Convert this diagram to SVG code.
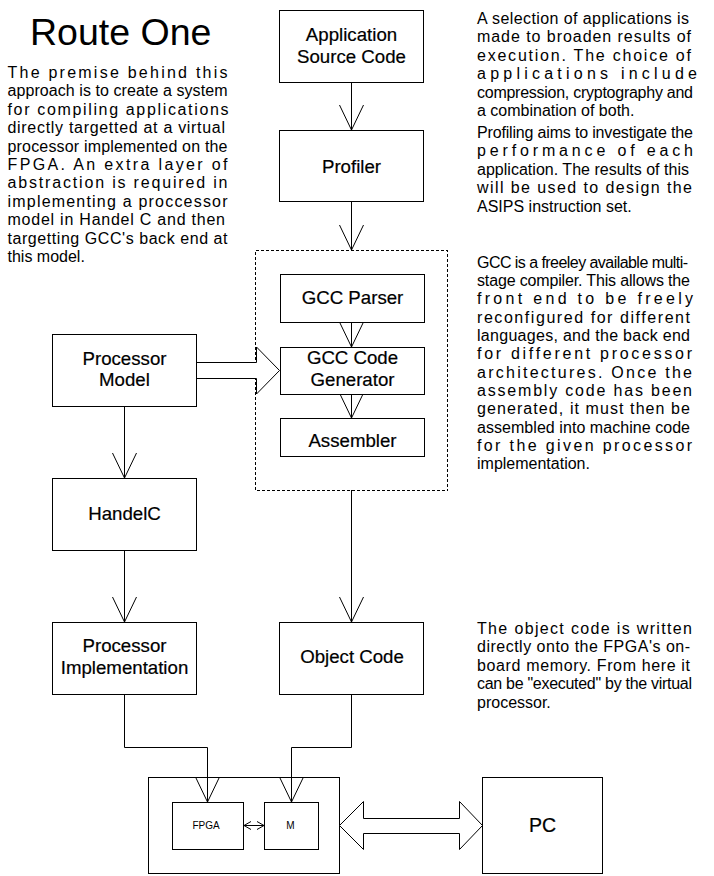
<svg xmlns="http://www.w3.org/2000/svg" width="714" height="876" viewBox="0 0 714 876">
<style>
.box{fill:#fff;stroke:#000;stroke-width:1;shape-rendering:crispEdges}
.dash{fill:none;stroke:#000;stroke-width:1;stroke-dasharray:3 2;shape-rendering:crispEdges}
.ln{fill:none;stroke:#000;stroke-width:1}
.blk{fill:#fff;stroke:#000;stroke-width:1}
.lbl{font-family:"Liberation Sans",Arial,sans-serif;font-size:18.67px;text-anchor:middle;fill:#000;stroke:#000;stroke-width:0.2}
.sm{font-family:"Liberation Sans",Arial,sans-serif;font-size:10px;text-anchor:middle;fill:#000}
.body{font-family:"Liberation Sans",Arial,sans-serif;font-size:16px;fill:#000}
.title{font-family:"Liberation Sans",Arial,sans-serif;font-size:37.5px;fill:#000}
</style>
<defs>
<marker id="ah" viewBox="-26 -14 28 28" refX="0" refY="0" markerWidth="28" markerHeight="28" markerUnits="userSpaceOnUse" orient="auto">
<path d="M-25,-12 L0,0 L-25,12" fill="none" stroke="#000" stroke-width="1"/>
</marker>
<marker id="sah" viewBox="-9 -6 10 12" refX="0" refY="0" markerWidth="10" markerHeight="12" markerUnits="userSpaceOnUse" orient="auto-start-reverse">
<path d="M-7,-4 L0,0 L-7,4" fill="none" stroke="#000" stroke-width="1"/>
</marker>
</defs>
<rect width="714" height="876" fill="#fff"/>

<g id="texts">
<text class="title" x="30" y="45">Route One</text>
<g class="body">
<text x="7.5" y="78" textLength="220" lengthAdjust="spacing">The premise behind this</text>
<text x="7.5" y="96.4" textLength="220" lengthAdjust="spacing">approach is to create a system</text>
<text x="7.5" y="114.8" textLength="221" lengthAdjust="spacing">for compiling applications</text>
<text x="7.5" y="133.2" textLength="217.5" lengthAdjust="spacing">directly targetted at a virtual</text>
<text x="7.5" y="151.6" textLength="220" lengthAdjust="spacing">processor implemented on the</text>
<text x="7.5" y="170" textLength="220" lengthAdjust="spacing">FPGA.  An extra layer of</text>
<text x="7.5" y="188.4" textLength="220" lengthAdjust="spacing">abstraction is required in</text>
<text x="7.5" y="206.8" textLength="220" lengthAdjust="spacing">implementing a proccessor</text>
<text x="7.5" y="225.2" textLength="217.5" lengthAdjust="spacing">model in Handel C and then</text>
<text x="7.5" y="243.6" textLength="220" lengthAdjust="spacing">targetting GCC's back end at</text>
<text x="7.5" y="262">this model.</text>

<text x="477" y="24" textLength="212" lengthAdjust="spacing">A selection of applications is</text>
<text x="477" y="42.4" textLength="214" lengthAdjust="spacing">made to broaden results of</text>
<text x="477" y="60.8" textLength="214" lengthAdjust="spacing">execution. The choice of</text>
<text x="477" y="79.2" textLength="220" lengthAdjust="spacing">applications include</text>
<text x="477" y="97.6" textLength="216" lengthAdjust="spacing">compression, cryptography and</text>
<text x="477" y="116">a combination of both.</text>

<text x="477" y="138" textLength="216" lengthAdjust="spacing">Profiling aims to investigate the</text>
<text x="477" y="156.4" textLength="216" lengthAdjust="spacing">performance of each</text>
<text x="477" y="174.8" textLength="212" lengthAdjust="spacing">application. The results of this</text>
<text x="477" y="193.2" textLength="215" lengthAdjust="spacing">will be used to design the</text>
<text x="477" y="211.6">ASIPS instruction set.</text>

<text x="477" y="267.5" textLength="211" lengthAdjust="spacing">GCC is a freeley available multi-</text>
<text x="477" y="285.8" textLength="213" lengthAdjust="spacing">stage compiler.  This allows the</text>
<text x="477" y="304.2" textLength="216" lengthAdjust="spacing">front end to be freely</text>
<text x="477" y="322.5" textLength="213" lengthAdjust="spacing">reconfigured for different</text>
<text x="477" y="340.8" textLength="213" lengthAdjust="spacing">languages, and the back end</text>
<text x="477" y="359.2" textLength="215" lengthAdjust="spacing">for different processor</text>
<text x="477" y="377.5" textLength="215" lengthAdjust="spacing">architectures.  Once the</text>
<text x="477" y="395.8" textLength="215" lengthAdjust="spacing">assembly code has been</text>
<text x="477" y="414.2" textLength="213" lengthAdjust="spacing">generated, it must then be</text>
<text x="477" y="432.5" textLength="213" lengthAdjust="spacing">assembled into machine code</text>
<text x="477" y="450.8" textLength="215" lengthAdjust="spacing">for the given processor</text>
<text x="477" y="469.2">implementation.</text>

<text x="477" y="634" textLength="215" lengthAdjust="spacing">The object code is written</text>
<text x="477" y="652.4" textLength="213" lengthAdjust="spacing">directly onto the FPGA's on-</text>
<text x="477" y="670.8" textLength="213" lengthAdjust="spacing">board memory.  From here it</text>
<text x="477" y="689.2" textLength="215" lengthAdjust="spacing">can be "executed" by the virtual</text>
<text x="477" y="707.6">processor.</text>
</g>
</g>

<g id="gcc-group">
<rect class="dash" x="255.5" y="250.5" width="192" height="240"/>
</g>
<g id="board">
<rect class="box" x="148.5" y="777.5" width="191" height="96"/>
</g>

<g id="connectors">
<line class="ln" x1="351.5" y1="82" x2="351.5" y2="130" marker-end="url(#ah)"/>
<line class="ln" x1="351.5" y1="201" x2="351.5" y2="250" marker-end="url(#ah)"/>
<line class="ln" x1="351.5" y1="322" x2="351.5" y2="347" marker-end="url(#ah)"/>
<line class="ln" x1="351.5" y1="394" x2="351.5" y2="418" marker-end="url(#ah)"/>
<line class="ln" x1="124.5" y1="406" x2="124.5" y2="478" marker-end="url(#ah)"/>
<line class="ln" x1="124.5" y1="550" x2="124.5" y2="622" marker-end="url(#ah)"/>
<line class="ln" x1="351.5" y1="490" x2="351.5" y2="622" marker-end="url(#ah)"/>
<polyline class="ln" points="124.5,694 124.5,747.5 207.5,747.5 207.5,802" marker-end="url(#ah)"/>
<polyline class="ln" points="351.5,694 351.5,747.5 291.5,747.5 291.5,802" marker-end="url(#ah)"/>
<polyline class="blk" points="196.5,362.5 256.5,362.5 256.5,347 279.5,370.5 256.5,394 256.5,378.5 196.5,378.5"/>
<polygon class="blk" points="339.5,825.5 363.5,801.5 363.5,818.5 459.5,818.5 459.5,801.5 482.5,825.5 459.5,849.5 459.5,833.5 363.5,833.5 363.5,849.5"/>
<line class="ln" x1="244" y1="825.5" x2="264" y2="825.5" marker-start="url(#sah)" marker-end="url(#sah)"/>
</g>

<g id="app-source">
<rect class="box" x="279.5" y="10.5" width="144" height="72"/>
<text class="lbl" x="351.5" y="41">Application</text>
<text class="lbl" x="351.5" y="62.5">Source Code</text>
</g>
<g id="profiler">
<rect class="box" x="279.5" y="130.5" width="144" height="71"/>
<text class="lbl" x="351.5" y="172.5">Profiler</text>
</g>
<g id="gcc-parser">
<rect class="box" x="280.5" y="274.5" width="144" height="48"/>
<text class="lbl" x="352.5" y="304">GCC Parser</text>
</g>
<g id="gcc-codegen">
<rect class="box" x="280.5" y="347.5" width="144" height="47"/>
<text class="lbl" x="352.5" y="363.5">GCC Code</text>
<text class="lbl" x="352.5" y="385.5">Generator</text>
</g>
<g id="assembler">
<rect class="box" x="280.5" y="418.5" width="144" height="38"/>
<text class="lbl" x="352.5" y="446.5">Assembler</text>
</g>
<g id="processor-model">
<rect class="box" x="52.5" y="334.5" width="144" height="72"/>
<text class="lbl" x="124.5" y="364.5">Processor</text>
<text class="lbl" x="124.5" y="386">Model</text>
</g>
<g id="handelc">
<rect class="box" x="52.5" y="478.5" width="144" height="72"/>
<text class="lbl" x="124.5" y="519.5">HandelC</text>
</g>
<g id="processor-impl">
<rect class="box" x="52.5" y="622.5" width="144" height="72"/>
<text class="lbl" x="124.5" y="652">Processor</text>
<text class="lbl" x="124.5" y="673.5">Implementation</text>
</g>
<g id="object-code">
<rect class="box" x="279.5" y="622.5" width="144" height="72"/>
<text class="lbl" x="352" y="663">Object Code</text>
</g>
<g id="fpga">
<rect class="box" x="172.5" y="802.5" width="71" height="47"/>
<text class="sm" x="206" y="828.5">FPGA</text>
</g>
<g id="memory">
<rect class="box" x="264.5" y="802.5" width="54" height="47"/>
<text class="sm" x="290.5" y="828.5">M</text>
</g>
<g id="pc">
<rect class="box" x="482.5" y="777.5" width="120" height="96"/>
<text class="lbl" x="542.5" y="831.5" style="font-size:19.5px">PC</text>
</g>
</svg>
